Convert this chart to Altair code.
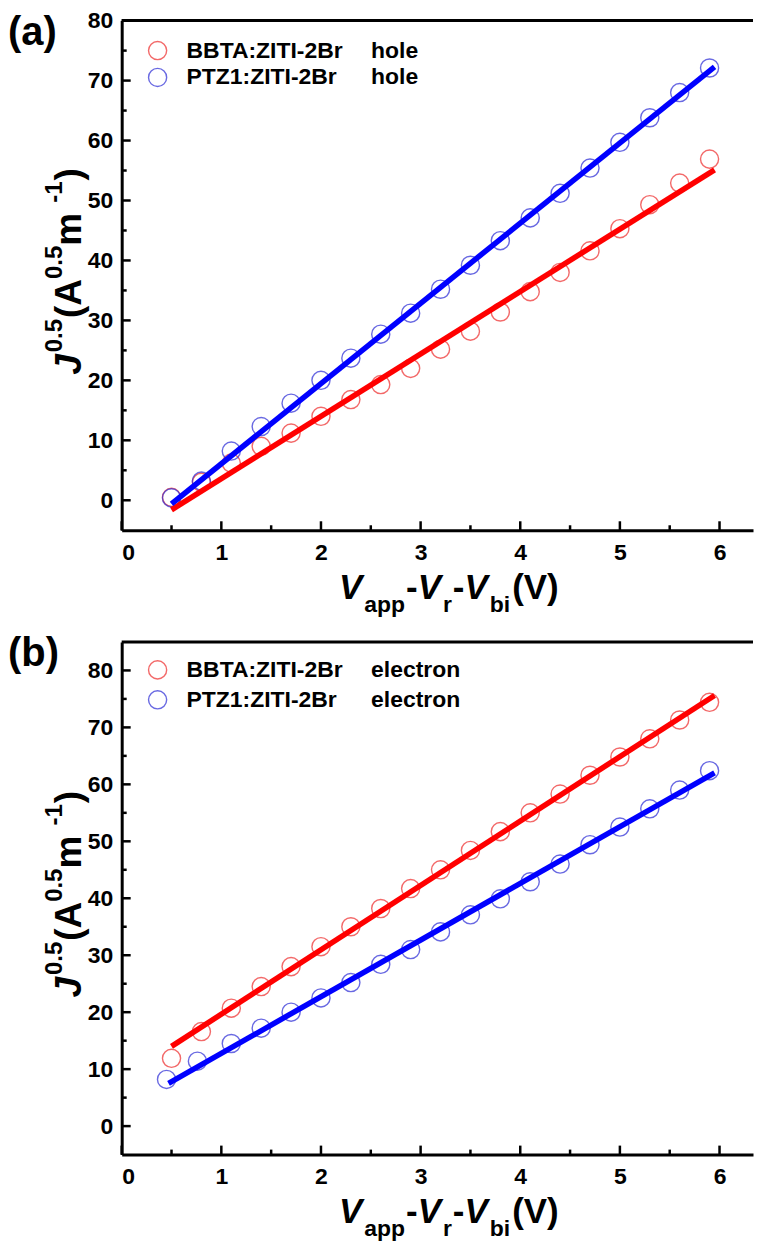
import altair as alt
import pandas as pd

FONT = "Liberation Sans"

# ---------------- data ----------------
a_x = [0.5, 0.8, 1.1, 1.4, 1.7, 2.0, 2.3, 2.6, 2.9, 3.2, 3.5, 3.8, 4.1, 4.4, 4.7, 5.0, 5.3, 5.6, 5.9]
a_bbta_hole = [0.5, 3.0, 6.2, 9.0, 11.2, 14.0, 16.8, 19.3, 22.0, 25.2, 28.2, 31.4, 34.8, 38.0, 41.6, 45.3, 49.3, 52.9, 56.9]
a_ptz1_hole = [0.4, 3.2, 8.2, 12.3, 16.2, 20.0, 23.7, 27.7, 31.2, 35.2, 39.2, 43.3, 47.1, 51.2, 55.4, 59.7, 63.8, 68.0, 72.1]
a_fit_x = [0.5, 5.95]
a_fit_bbta = [-1.6, 55.1]
a_fit_ptz1 = [-0.6, 72.3]

b_x_bbta = [0.5, 0.8, 1.1, 1.4, 1.7, 2.0, 2.3, 2.6, 2.9, 3.2, 3.5, 3.8, 4.1, 4.4, 4.7, 5.0, 5.3, 5.6, 5.9]
b_bbta_electron = [11.9, 16.6, 20.7, 24.5, 28.0, 31.5, 35.0, 38.2, 41.7, 45.0, 48.4, 51.7, 55.0, 58.3, 61.6, 64.8, 68.0, 71.3, 74.4]
b_x_ptz1 = [0.45, 0.76, 1.1, 1.4, 1.7, 2.0, 2.3, 2.6, 2.9, 3.2, 3.5, 3.8, 4.1, 4.4, 4.7, 5.0, 5.3, 5.6, 5.9]
b_ptz1_electron = [8.2, 11.4, 14.5, 17.2, 20.0, 22.5, 25.2, 28.4, 31.0, 34.1, 37.1, 39.9, 42.9, 46.0, 49.4, 52.5, 55.7, 59.0, 62.4]
b_fit_x_bbta = [0.5, 5.95]
b_fit_bbta = [14.0, 75.6]
b_fit_x_ptz1 = [0.47, 5.95]
b_fit_ptz1 = [7.5, 62.0]

x_major = [0, 1, 2, 3, 4, 5, 6]
x_minor = [0.5, 1.5, 2.5, 3.5, 4.5, 5.5]
y_major = [0, 10, 20, 30, 40, 50, 60, 70, 80]
y_minor_a = [5, 15, 25, 35, 45, 55, 65, 75]
y_minor_b = [5, 15, 25, 35, 45, 55, 65, 75]

RED_PT, BLUE_PT = "#ee2a2a", "#2a2ad6"
RED_LN, BLUE_LN = "#ff0000", "#0000ff"

W = 633
XMAX = 6.336

# approximate Liberation Sans Bold advance widths (per 1000 em) for layout of composite titles
CW = {' ': 278, '(': 333, ')': 333, '-': 333, '.': 278, '0': 556, '1': 556, '5': 556,
      'A': 722, 'J': 556, 'V': 667, 'a': 556, 'p': 611, 'r': 389, 'b': 611, 'i': 278, 'm': 889}


def tw(s, size):
    return sum(CW[c] for c in s) * size / 1000.0


def piece(text, x, y, size, italic=False, angle=0, align="left", baseline="alphabetic"):
    kw = dict(font=FONT, fontWeight="bold", fontSize=size, color="black",
              align=align, baseline=baseline)
    if italic:
        kw["fontStyle"] = "italic"
    if angle:
        kw["angle"] = angle
    return alt.Chart(pd.DataFrame({"t": [text]})).mark_text(**kw).encode(
        x=alt.value(x), y=alt.value(y), text="t:N")


def panel(tag, H, ymin, ymax, series, fits, legend_rows, y_minor):
    xs = alt.Scale(domain=[0, XMAX], nice=False, zero=False)
    ys = alt.Scale(domain=[ymin, ymax], nice=False, zero=False)
    layers = []
    # scatter points
    for i, (xv, yv, name, col) in enumerate(series):
        df = pd.DataFrame({"x": xv, "y": yv, "s": name})
        enc = dict(
            x=alt.X("x:Q", scale=xs,
                    axis=alt.Axis(values=x_major, title=None, ticks=False, grid=False,
                                  domainWidth=3, domainColor="black", labelPadding=11,
                                  labelFontSize=23, labelFont=FONT, labelFontWeight="bold",
                                  labelColor="black", format="d")),
            y=alt.Y("y:Q", scale=ys,
                    axis=alt.Axis(values=y_major, title=None, ticks=False, grid=False,
                                  domainWidth=3, domainColor="black", labelPadding=9,
                                  labelFontSize=23, labelFont=FONT, labelFontWeight="bold",
                                  labelColor="black", format="d")),
        )
        layers.append(alt.Chart(df).mark_point(shape="circle", filled=False, size=330,
                                               strokeWidth=1.4, color=col).encode(**enc))
    # fitted lines
    for xv, yv, col in fits:
        df = pd.DataFrame({"x": xv, "y": yv})
        layers.append(alt.Chart(df).mark_line(color=col, strokeWidth=5.5, strokeCap="butt").encode(
            x=alt.X("x:Q", scale=xs), y=alt.Y("y:Q", scale=ys)))
    # inward ticks
    layers.append(alt.Chart(pd.DataFrame({"v": x_major})).mark_rule(color="black", strokeWidth=2.5).encode(
        x=alt.X("v:Q", scale=xs), y=alt.value(H), y2=alt.value(H - 9)))
    layers.append(alt.Chart(pd.DataFrame({"v": x_minor})).mark_rule(color="black", strokeWidth=2.5).encode(
        x=alt.X("v:Q", scale=xs), y=alt.value(H), y2=alt.value(H - 5)))
    layers.append(alt.Chart(pd.DataFrame({"v": y_major})).mark_rule(color="black", strokeWidth=2.5).encode(
        y=alt.Y("v:Q", scale=ys), x=alt.value(0), x2=alt.value(9)))
    layers.append(alt.Chart(pd.DataFrame({"v": y_minor})).mark_rule(color="black", strokeWidth=2.5).encode(
        y=alt.Y("v:Q", scale=ys), x=alt.value(0), x2=alt.value(5)))
    # top frame line
    layers.append(alt.Chart(pd.DataFrame({"v": [0]})).mark_rule(color="black", strokeWidth=3).encode(
        x=alt.value(0), x2=alt.value(W), y=alt.value(0)))
    # legend
    for (name, kind, col, ly) in legend_rows:
        layers.append(alt.Chart(pd.DataFrame({"v": [0]})).mark_point(
            shape="circle", filled=False, size=330, strokeWidth=1.4, color=col).encode(
            x=alt.value(36), y=alt.value(ly)))
        layers.append(piece(name, 65, ly, 23, baseline="middle"))
        layers.append(piece(kind, 250, ly, 23, baseline="middle"))
    # panel tag
    layers.append(piece(tag, -114, -8, 40, baseline="top"))

    # x-axis title  V_app - V_r - V_bi (V)   (gap after italic pieces to avoid overhang)
    parts = [("V", 35, True, 0, 2), ("app", 23, False, -13, 1), ("-", 35, False, 0, 0),
             ("V", 35, True, 0, 2), ("r", 23, False, -13, 1), ("-", 35, False, 0, 0),
             ("V", 35, True, 0, 2), ("bi", 23, False, -13, 2), ("(V)", 35, False, 0, 0)]
    total = sum(tw(t, s) + g for t, s, _, _, g in parts)
    cx = 328 - total / 2
    for t, s, it, rise, g in parts:
        layers.append(piece(t, cx, H + 69 - rise, s, italic=it))
        cx += tw(t, s) + g

    # y-axis title  J^0.5 (A^0.5 m^-1)   (rotated, reading upward)
    yparts = [("J", 37, True, 0, 2), ("0.5", 24, False, 19, 1), ("(A", 37, False, 0, 0),
              ("0.5", 24, False, 19, 0), (" m", 37, False, 0, 0), ("-1", 24, False, 19, 1),
              (")", 37, False, 0, 0)]
    total = sum(tw(t, s) + g for t, s, _, _, g in yparts)
    cy = H / 2 - 4 + total / 2
    for t, s, it, rise, g in yparts:
        layers.append(piece(t, -41 - rise, cy, s, italic=it, angle=270))
        cy -= tw(t, s) + g

    return alt.layer(*layers).properties(width=W, height=H)


top = panel(
    "(a)", 511, -5, 80,
    [(a_x, a_bbta_hole, "BBTA:ZITI-2Br hole", RED_PT),
     (a_x, a_ptz1_hole, "PTZ1:ZITI-2Br hole", BLUE_PT)],
    [(a_fit_x, a_fit_bbta, RED_LN), (a_fit_x, a_fit_ptz1, BLUE_LN)],
    [("BBTA:ZITI-2Br", "hole", RED_PT, 30), ("PTZ1:ZITI-2Br", "hole", BLUE_PT, 57)],
    y_minor_a)

bottom = panel(
    "(b)", 514, -5, 85,
    [(b_x_bbta, b_bbta_electron, "BBTA:ZITI-2Br electron", RED_PT),
     (b_x_ptz1, b_ptz1_electron, "PTZ1:ZITI-2Br electron", BLUE_PT)],
    [(b_fit_x_bbta, b_fit_bbta, RED_LN), (b_fit_x_ptz1, b_fit_ptz1, BLUE_LN)],
    [("BBTA:ZITI-2Br", "electron", RED_PT, 28), ("PTZ1:ZITI-2Br", "electron", BLUE_PT, 58)],
    y_minor_b)

chart = alt.vconcat(top, bottom, spacing=17).properties(
    padding=0, background="white"
).configure_view(stroke=None).configure_axis(grid=False)

chart.save("out.html", embed_options={"renderer": "svg", "actions": False})
